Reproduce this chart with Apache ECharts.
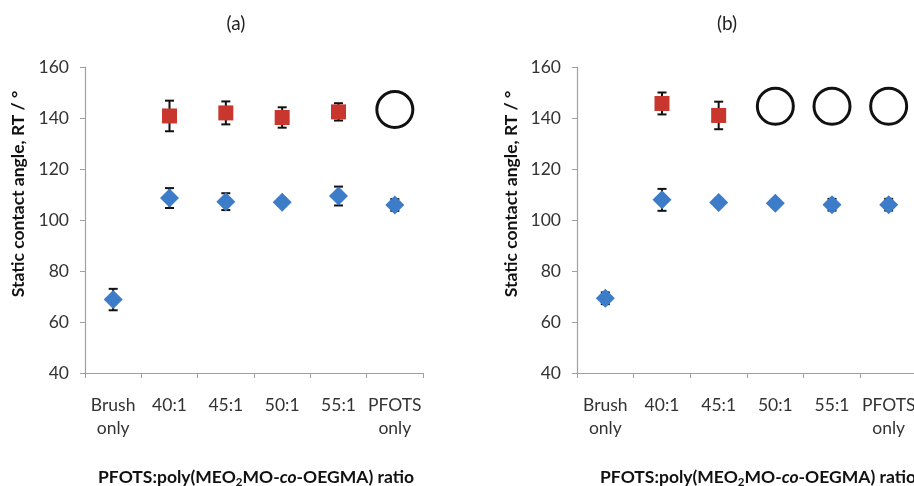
<!DOCTYPE html>
<html><head><meta charset="utf-8">
<script src="https://cdn.jsdelivr.net/npm/echarts@6/dist/echarts.min.js"></script>
<style>html,body{margin:0;padding:0;background:#fff}#c{width:914px;height:486px}</style>
</head><body><div id="c"></div>
<script>
var categories = ['Brush\nonly', '40:1', '45:1', '50:1', '55:1', 'PFOTS\nonly'];
var yTicks = [40, 60, 80, 100, 120, 140, 160];

// Panel (a)
var aBlue    = [68.8, 108.6, 107.2, 107.0, 109.4, 105.9];
var aBlueErr = [4.2, 3.9, 3.3, 1.5, 3.7, 2.3];
var aRed     = [null, 140.8, 142.0, 140.2, 142.4, null];
var aRedErr  = [null, 6.0, 4.5, 4.0, 3.4, null];
var aCircle  = [null, null, null, null, null, 143.3];

// Panel (b)
var bBlue    = [69.3, 107.9, 106.9, 106.6, 106.0, 106.0];
var bBlueErr = [2.3, 4.3, 1.5, 1.5, 2.3, 2.3];
var bRed     = [null, 145.7, 141.0, null, null, null];
var bRedErr  = [null, 4.3, 5.4, null, null, null];
var bCircle  = [null, null, null, 144.6, 144.6, 144.6];

var FONT = 'Lato';
var AXIS_COLOR = '#a0a0a0';

function errData(vals, errs) {
  var out = [];
  for (var i = 0; i < vals.length; i++) {
    if (vals[i] != null && errs[i] != null) out.push([i, vals[i] - errs[i], vals[i] + errs[i]]);
  }
  return out;
}
function ptData(vals) {
  var out = [];
  for (var i = 0; i < vals.length; i++) if (vals[i] != null) out.push([i, vals[i]]);
  return out;
}
function errSeries(idx, data) {
  return {
    type: 'custom', xAxisIndex: idx, yAxisIndex: idx, z: 2, silent: true,
    data: data,
    renderItem: function (params, api) {
      var x = api.value(0);
      var lo = api.coord([x, api.value(1)]);
      var hi = api.coord([x, api.value(2)]);
      var w = 4.5;
      var st = { stroke: '#111', lineWidth: 2 };
      return { type: 'group', children: [
        { type: 'line', shape: { x1: lo[0], y1: lo[1], x2: hi[0], y2: hi[1] }, style: st },
        { type: 'line', shape: { x1: lo[0] - w, y1: lo[1], x2: lo[0] + w, y2: lo[1] }, style: st },
        { type: 'line', shape: { x1: hi[0] - w, y1: hi[1], x2: hi[0] + w, y2: hi[1] }, style: st }
      ]};
    }
  };
}
function blueSeries(idx, vals) {
  return { type: 'scatter', xAxisIndex: idx, yAxisIndex: idx, z: 3, data: ptData(vals),
    symbol: 'diamond', symbolSize: 19, itemStyle: { color: '#3d7cc9', opacity: 1 } };
}
function redSeries(idx, vals) {
  return { type: 'scatter', xAxisIndex: idx, yAxisIndex: idx, z: 3, data: ptData(vals),
    symbol: 'rect', symbolSize: 15, itemStyle: { color: '#c9362e', opacity: 1 } };
}
function circleSeries(idx, vals) {
  return { type: 'scatter', xAxisIndex: idx, yAxisIndex: idx, z: 3, data: ptData(vals),
    symbol: 'circle', symbolSize: 36,
    itemStyle: { color: 'rgba(0,0,0,0)', borderColor: '#111', borderWidth: 3, opacity: 1 } };
}
var xName = '{b|PFOTS:poly(MEO}{sub|2}{b|MO-}{i|co}{b|-OEGMA) ratio}';
function xNameStyle(padLeft) {
  return {
    fontFamily: FONT, color: '#111', padding: [0, 0, 0, padLeft],
    rich: {
      b: { fontFamily: FONT, fontWeight: 'bold', fontSize: 17.5, color: '#111' },
      i: { fontFamily: FONT, fontWeight: 'bold', fontStyle: 'italic', fontSize: 17.5, color: '#111' },
      sub: { fontFamily: FONT, fontWeight: 'bold', fontSize: 11.5, color: '#111', padding: [10, 0, 0, 0] }
    }
  };
}
function xAxis(gi, padLeft) {
  return {
    type: 'category', gridIndex: gi, data: categories, boundaryGap: true,
    axisLine: { lineStyle: { color: AXIS_COLOR, width: 1.2 } },
    axisTick: { show: true, length: 5, alignWithLabel: false, lineStyle: { color: AXIS_COLOR } },
    axisLabel: { fontFamily: FONT, fontSize: 17.5, color: '#333', margin: 21, lineHeight: 23, interval: 0 },
    name: xName, nameLocation: 'middle', nameGap: 93, nameTextStyle: xNameStyle(padLeft)
  };
}
function yAxis(gi) {
  return {
    type: 'value', gridIndex: gi, min: 40, max: 160, interval: 20,
    axisLine: { show: true, lineStyle: { color: AXIS_COLOR, width: 1.2 } },
    axisTick: { show: true, length: 5, lineStyle: { color: AXIS_COLOR } },
    splitLine: { show: false },
    axisLabel: { fontFamily: FONT, fontSize: 17.5, color: '#333', margin: 16 }
  };
}
var yName = 'Static contact angle, RT / °';
var chart = echarts.init(document.getElementById('c'));
chart.setOption({
  animation: false,
  backgroundColor: '#fff',
  grid: [
    { left: 85, top: 67, width: 338, height: 306, containLabel: false, outerBoundsMode: 'none' },
    { left: 577, top: 67, width: 340, height: 306, containLabel: false, outerBoundsMode: 'none' }
  ],
  xAxis: [xAxis(0, 4), xAxis(1, 22)],
  yAxis: [yAxis(0), yAxis(1)],
  graphic: [
    { type: 'text', x: 236, y: 24, style: { text: '(a)', font: '19px Lato', fill: '#222', textAlign: 'center', textVerticalAlign: 'middle' } },
    { type: 'text', x: 727, y: 24, style: { text: '(b)', font: '19px Lato', fill: '#222', textAlign: 'center', textVerticalAlign: 'middle' } },
    { type: 'text', x: 18, y: 194, rotation: Math.PI / 2, style: { text: yName, font: 'bold 17.5px Lato', fill: '#111', textAlign: 'center', textVerticalAlign: 'middle' } },
    { type: 'text', x: 511, y: 194, rotation: Math.PI / 2, style: { text: yName, font: 'bold 17.5px Lato', fill: '#111', textAlign: 'center', textVerticalAlign: 'middle' } }
  ],
  series: [
    errSeries(0, errData(aBlue, aBlueErr)),
    errSeries(0, errData(aRed, aRedErr)),
    blueSeries(0, aBlue), redSeries(0, aRed), circleSeries(0, aCircle),
    errSeries(1, errData(bBlue, bBlueErr)),
    errSeries(1, errData(bRed, bRedErr)),
    blueSeries(1, bBlue), redSeries(1, bRed), circleSeries(1, bCircle)
  ]
});
</script></body></html>
